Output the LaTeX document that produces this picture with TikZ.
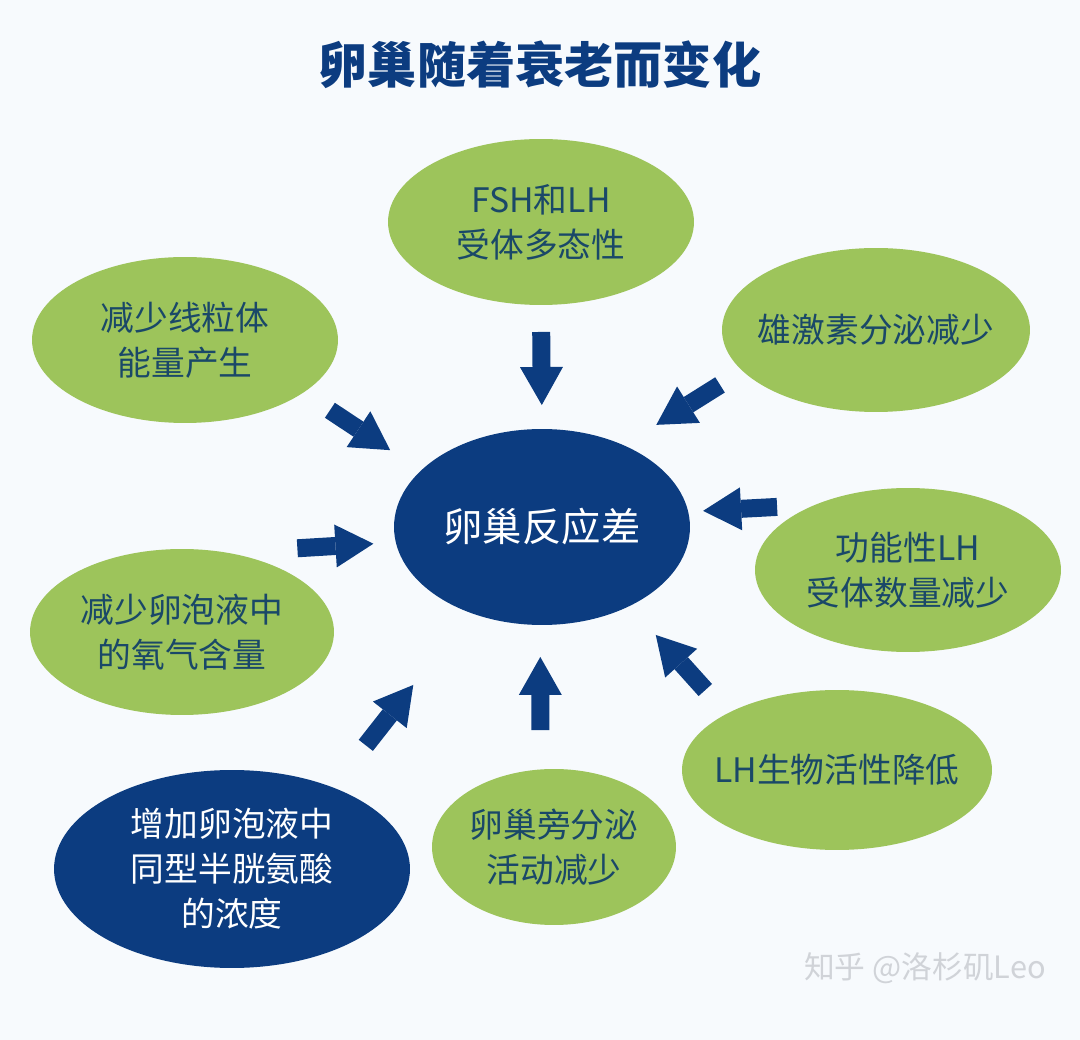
\documentclass[tikz,border=0pt]{standalone}
\usepackage{fontspec}
\usepackage{xcolor}
\usepackage{tikz}
\usetikzlibrary{arrows.meta,positioning,shapes.geometric}
\newfontfamily\cjk{Noto Sans CJK SC}
\definecolor{ovblue}{HTML}{0C3C80}
\definecolor{ovgreen}{HTML}{9DC45B}
\definecolor{ovtext}{HTML}{1A4868}
\definecolor{ovbg}{HTML}{F7FAFD}
\definecolor{ovmark}{HTML}{D0D3D8}
\tikzset{
  bubble/.style={ellipse, inner sep=0pt, outer sep=0pt, align=center, font=\cjk\fontsize{19.2pt}{25.6pt}\selectfont},
  greenbub/.style={bubble, fill=ovgreen, text=ovtext},
  bluebub/.style={bubble, fill=ovblue, text=white},
  inarrow/.style={draw=ovblue, line width=0.36cm, -{Triangle[width=0.86cm,length=0.76cm,line width=0pt]}}
}

\begin{document}
\begin{tikzpicture}[x=0.02cm, y=-0.02cm]
  \fill[ovbg] (0,0) rectangle (1080,1040);
  \node[font=\cjk\bfseries\fontsize{28pt}{32pt}\selectfont, text=ovblue] (title) at (540,65) {卵巢随着衰老而变化};
  \node[bluebub, minimum width=5.92cm, minimum height=3.92cm, font=\cjk\fontsize{22.4pt}{28pt}\selectfont] (hub) at (542,527) {卵巢反应差};
  \node[greenbub, minimum width=6.12cm, minimum height=3.32cm] (fsh) at (541,222) {FSH和LH\\受体多态性};
  \node[greenbub, minimum width=6.12cm, minimum height=3.32cm] (mito) at (185,340) {减少线粒体\\能量产生};
  \node[greenbub, minimum width=6.16cm, minimum height=3.28cm, inner xsep=-0.3cm] (andro) at (876,330) {雄激素分泌减少};
  \node[greenbub, minimum width=6.12cm, minimum height=3.28cm] (fnlh) at (908,570) {功能性LH\\受体数量减少};
  \node[greenbub, minimum width=6.08cm, minimum height=3.32cm] (oxy) at (182,632) {减少卵泡液中\\的氧气含量};
  \node[greenbub, minimum width=6.2cm, minimum height=3.2cm, inner xsep=-0.3cm] (lhbio) at (837,770) {LH生物活性降低};
  \node[greenbub, minimum width=4.88cm, minimum height=3.12cm] (para) at (554,847) {卵巢旁分泌\\活动减少};
  \node[bluebub, minimum width=7.12cm, minimum height=3.96cm] (homo) at (232,869) {增加卵泡液中\\同型半胱氨酸\\的浓度};
  \node[font=\cjk\fontsize{17.5pt}{20pt}\selectfont, text=ovmark] (wmark) at (925,968) {知乎 @洛杉矶Leo};

  \draw[inarrow, shorten <=0.54cm, shorten >=0.48cm] (fsh.south) -- (hub.north);
  \draw[inarrow, shorten <=0.64cm, shorten >=0.74cm] (mito.-24) -- (hub.155);
  \draw[inarrow, shorten <=0.53cm, shorten >=0.77cm] (andro.197) -- (hub.45);
  \draw[inarrow, shorten <=0.76cm, shorten >=0.30cm] (fnlh.145) -- (hub.6);
  \draw[inarrow, shorten <=1.43cm, shorten >=0.45cm] (oxy.61) -- (hub.186);
  \draw[inarrow, shorten <=0.64cm, shorten >=0.78cm] (lhbio.153) -- (hub.-42);
  \draw[inarrow, shorten <=0.79cm, shorten >=0.64cm] (para.100) -- (hub.-91);
  \draw[inarrow, shorten <=1.07cm, shorten >=1.84cm] (homo.39.5) -- (hub.230);
\end{tikzpicture}
\end{document}
